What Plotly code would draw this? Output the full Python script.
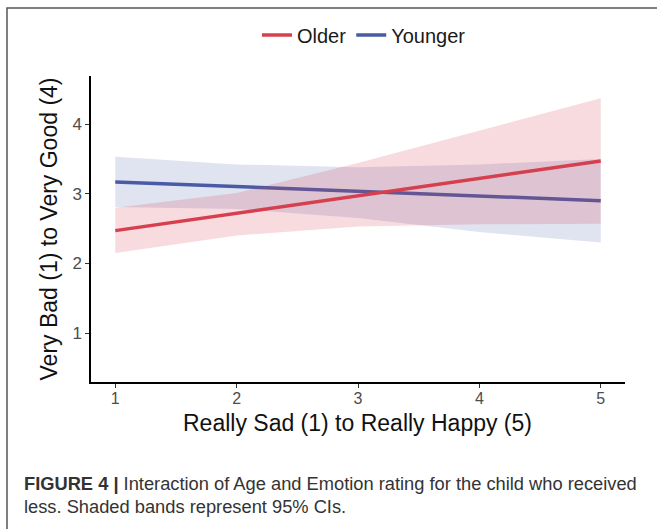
import plotly.graph_objects as go

# ---- data ----
emotion = [1, 2, 3, 4, 5]
older_fit = [2.47, 2.72, 2.97, 3.22, 3.47]
older_lo = [2.15, 2.40, 2.53, 2.56, 2.57]
older_hi = [2.80, 3.01, 3.44, 3.91, 4.37]
younger_fit = [3.17, 3.10, 3.03, 2.97, 2.90]
younger_lo = [2.81, 2.78, 2.65, 2.45, 2.30]
younger_hi = [3.53, 3.42, 3.38, 3.42, 3.50]
x_ticks = [1, 2, 3, 4, 5]
y_ticks = [1, 2, 3, 4]

RED = "#d6404e"
BLUE = "#4a5ba6"
RED_BAND = "rgba(214,64,78,0.19)"
BLUE_BAND = "rgba(74,91,166,0.17)"

W, H = 657, 529
L, R, T, B = 91, 625, 76, 382  # plot area in pixels


def px(x):
    return (x - L) / (R - L)


def py(y):
    return (B - y) / (B - T)


fig = go.Figure()

def band(xs, lo, hi, color):
    fig.add_trace(go.Scatter(x=xs, y=lo, mode="lines", line=dict(width=0),
                             showlegend=False, hoverinfo="skip"))
    fig.add_trace(go.Scatter(x=xs, y=hi, mode="lines", line=dict(width=0),
                             fill="tonexty", fillcolor=color,
                             showlegend=False, hoverinfo="skip"))

band(emotion, younger_lo, younger_hi, BLUE_BAND)
fig.add_trace(go.Scatter(x=emotion, y=younger_fit, mode="lines", name="Younger",
                         line=dict(color=BLUE, width=3.5), legendrank=2))
band(emotion, older_lo, older_hi, RED_BAND)
fig.add_trace(go.Scatter(x=emotion, y=older_fit, mode="lines", name="Older",
                         line=dict(color=RED, width=3.5), legendrank=1))

font = "Liberation Sans, Arial, sans-serif"

fig.update_layout(
    width=W, height=H,
    margin=dict(l=L, r=W - R, t=T, b=H - B),
    paper_bgcolor="white", plot_bgcolor="white",
    font=dict(family=font, color="#1a1a1a"),
    showlegend=True,
    legend=dict(orientation="h", traceorder="normal", x=px(364), xanchor="center",
                y=py(35), yanchor="middle", font=dict(size=20, color="#1a1a1a"),
                itemwidth=30, bgcolor="rgba(0,0,0,0)"),
    xaxis=dict(range=[0.8, 5.2], tickvals=x_ticks, showgrid=False, zeroline=False,
               showline=True, linecolor="black", linewidth=1.5,
               ticks="outside", ticklen=4, tickcolor="#333", tickwidth=1.2,
               tickfont=dict(size=16, color="#4d4d4d"), ticklabelstandoff=-3),
    yaxis=dict(range=[0.297, 4.69], tickvals=y_ticks, showgrid=False, zeroline=False,
               showline=True, linecolor="black", linewidth=1.5,
               ticks="outside", ticklen=4, tickcolor="#333", tickwidth=1.2,
               tickfont=dict(size=17, color="#4d4d4d"),
               title=dict(text="Very Bad (1) to Very Good (4)",
                          font=dict(size=23, color="#111"), standoff=8)),
    shapes=[dict(type="path", xref="paper", yref="paper",
                 path=f"M {px(7)},{py(560)} L {px(7)},{py(8)} L {px(700)},{py(8)}",
                 line=dict(color="#555", width=1.5), layer="above")],
    annotations=[
        dict(xref="paper", yref="paper", x=px(357), y=py(423), xanchor="center", yanchor="middle",
             showarrow=False, text="Really Sad (1) to Really Happy (5)",
             font=dict(size=23, color="#111", family=font)),
        dict(xref="paper", yref="paper", x=px(22), y=py(483), xanchor="left", yanchor="middle",
             showarrow=False, align="left",
             text="<b>FIGURE 4 |</b> Interaction of Age and Emotion rating for the child who received",
             font=dict(size=18.3, color="#333", family=font)),
        dict(xref="paper", yref="paper", x=px(22), y=py(507), xanchor="left", yanchor="middle",
             showarrow=False, align="left",
             text="less. Shaded bands represent 95% CIs.",
             font=dict(size=18.3, color="#333", family=font)),
    ],
)

fig.write_html("out.html", config={"displayModeBar": False},
               post_script="document.body.style.margin='0';document.body.style.padding='0';")
